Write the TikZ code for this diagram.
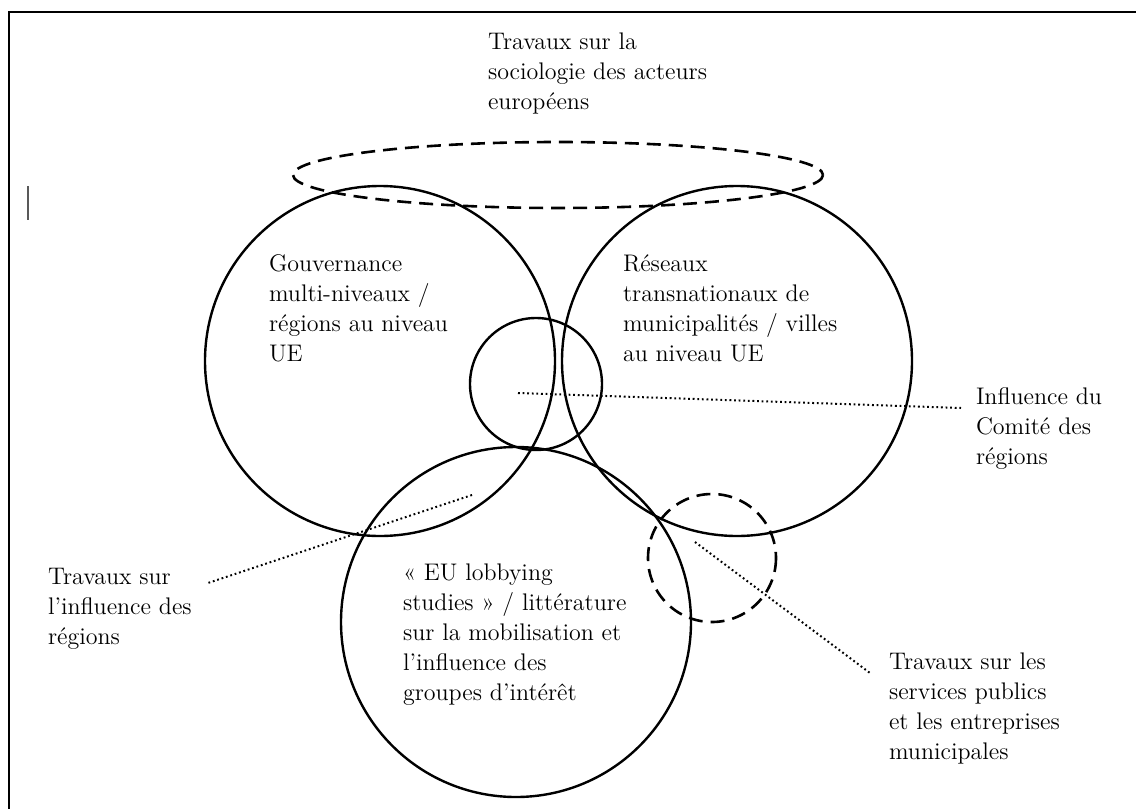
\documentclass[tikz,border=0pt]{standalone}
\usetikzlibrary{positioning}

\begin{document}
\begin{tikzpicture}[
    x=0.5pt, y=-0.5pt,
    line width=1pt,
    field/.style={draw, line width=1.2pt},
    openfield/.style={draw, line width=1.3pt, dash pattern=on 7pt off 4pt},
    leader/.style={draw, line width=1pt, dash pattern=on 0.9pt off 1.4pt},
    txt/.style={font=\fontsize{12}{15}\selectfont, align=left, inner sep=0pt, anchor=north west}
]{
    \useasboundingbox (0,0) rectangle (1136,809);

    % frame and cursor
    \draw[line width=1pt] (9,809) -- (9,12) -- (1140,12);
    \draw[line width=1.2pt, black!65] (28,186) -- (28,220);

    % circle centres
    \coordinate (gouvernance) at (380,361);
    \coordinate (reseaux) at (737,361);
    \coordinate (lobbying) at (516,622);
    \coordinate (comite) at (536,384);
    \coordinate (services) at (712,558);
    \coordinate (sociologie) at (558,175);

    \draw[field] (gouvernance) circle (175);
    \draw[field] (reseaux) circle (175);
    \draw[field] (lobbying) circle (175);
    \draw[field] (comite) circle (66);
    \draw[openfield] (services) circle (64);
    \draw[openfield] (sociologie) ellipse [x radius=265, y radius=33];

    % labels
    \node[txt](sociologie_txt) at (487,27){\strut Travaux sur la\\sociologie des acteurs\\europ\'eens};
    \node[txt](gouvernance_txt) at (268,249){\strut Gouvernance\\multi-niveaux /\\r\'egions au niveau\\UE};
    \node[txt](reseaux_txt) at (622,249){\strut R\'eseaux\\transnationaux de\\municipalit\'es / villes\\au niveau UE};
    \node[txt](lobbying_txt) at (402,558){\strut \guillemotleft{} EU lobbying\\studies \guillemotright{} / litt\'erature\\sur la mobilisation et\\l'influence des\\groupes d'int\'er\^et};
    \node[txt](comite_txt) at (975,382){\strut Influence du\\Comit\'e des\\r\'egions};
    \node[txt](influence_txt) at (47,562){\strut Travaux sur\\l'influence des\\r\'egions};
    \node[txt](services_txt) at (888,647){\strut Travaux sur les\\services publics\\et les entreprises\\municipales};

    % leaders
    \coordinate (comite_in) at (518,393);
    \coordinate (comite_out) at (961,408);
    \coordinate (influence_in) at (472,495);
    \coordinate (influence_out) at (208,583);
    \coordinate (services_in) at (695,542);
    \coordinate (services_out) at (870,673);

    \draw[leader](comite_in) -- (comite_out);
    \draw[leader](influence_in) -- (influence_out);
    \draw[leader](services_in) -- (services_out);
}
\end{tikzpicture}
\end{document}
